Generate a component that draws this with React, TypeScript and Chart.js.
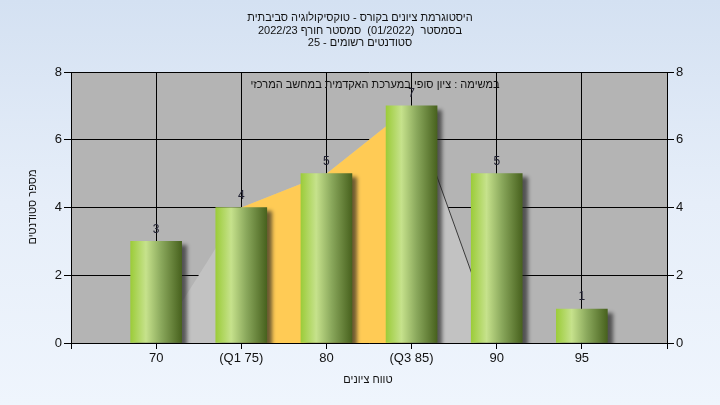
import React, { useEffect, useRef } from "react";
import { Chart, registerables } from "chart.js";

Chart.register(...registerables);

// ---- data ----
const categories = [70, 75, 80, 85, 90, 95];
const tickLabels = ["70", "(Q1 75)", "80", "(Q3 85)", "90", "95"];
const counts = [3, 4, 5, 7, 5, 1];
const curveX = [70, 75, 80, 85, 90, 95];
const curveY = [0, 4, 5, 7, 0, 0];
const iqrX = [75, 80, 85];
const iqrY = [4, 5, 7];
const xMin = 65;
const xMax = 100;
const yMax = 8;
const yStep = 2;

const titleLines = [
  "היסטוגרמת ציונים בקורס - טוקסיקולוגיה סביבתית",
  "בסמסטר  (01/2022)  סמסטר חורף 2022/23",
  "סטודנטים רשומים - 25",
];
const subtitle = "במשימה : ציון סופי במערכת האקדמית במחשב המרכזי";
const xTitle = "טווח ציונים";
const yTitle = "מספר סטודנטים";

const FONT = '"Liberation Sans", Arial, sans-serif';

const decor = {
  id: "decor",
  beforeDraw(chart: any) {
    const { ctx, chartArea: a } = chart;
    ctx.save();
    ctx.fillStyle = "#b4b4b4";
    ctx.fillRect(a.left, a.top, a.right - a.left, a.bottom - a.top);
    ctx.restore();
  },
  beforeDatasetDraw(chart: any, args: any) {
    if (args.index === 0) {
      const ctx = chart.ctx;
      ctx.save();
      ctx.shadowColor = "rgba(30,30,30,0.65)";
      ctx.shadowOffsetX = 5;
      ctx.shadowOffsetY = 4;
      ctx.shadowBlur = 4;
    }
  },
  afterDatasetDraw(chart: any, args: any) {
    if (args.index === 0) chart.ctx.restore();
  },
  afterDatasetsDraw(chart: any) {
    const { ctx, chartArea: a } = chart;
    const meta = chart.getDatasetMeta(0);
    ctx.save();
    ctx.font = `12px ${FONT}`;
    ctx.fillStyle = "#222233";
    ctx.textAlign = "center";
    ctx.textBaseline = "middle";
    meta.data.forEach((el: any, i: number) => {
      ctx.fillText(String(counts[i]), el.x, el.y - 12);
    });
    ctx.font = `11px ${FONT}`;
    ctx.fillStyle = "#111";
    ctx.fillText(subtitle, (a.left + a.right) / 2 + 6, 85);
    ctx.restore();
  },
  afterDraw(chart: any) {
    const { ctx } = chart;
    ctx.save();
    ctx.font = `11px ${FONT}`;
    ctx.fillStyle = "#111";
    ctx.textAlign = "center";
    ctx.textBaseline = "middle";
    titleLines.forEach((t, i) => ctx.fillText(t, 360, 18 + i * 12.5));
    ctx.fillText(xTitle, 368, 380);
    ctx.translate(33, 207);
    ctx.rotate(-Math.PI / 2);
    ctx.fillText(yTitle, 0, 0);
    ctx.restore();
  },
};

export default function App() {
  const ref = useRef<HTMLCanvasElement | null>(null);
  useEffect(() => {
    if (!ref.current) return;
    const chart = new Chart(ref.current, {
      data: {
        datasets: [
          {
            type: "bar",
            order: 0,
            data: categories.map((x, i) => ({ x, y: counts[i] })),
            barThickness: 51,
            borderWidth: 0,
            backgroundColor: (c: any) => {
              const chart = c.chart;
              const xs = chart.scales && chart.scales.x;
              if (!xs || !c.raw) return "#8fb548";
              const px = xs.getPixelForValue(c.raw.x);
              if (!isFinite(px)) return "#8fb548";
              const g = chart.ctx.createLinearGradient(px - 25.5, 0, px + 25.5, 0);
              g.addColorStop(0, "#9ccc3a");
              g.addColorStop(0.3, "#c6e28c");
              g.addColorStop(0.6, "#8aa85c");
              g.addColorStop(1, "#48621e");
              return g;
            },
          } as any,
          {
            type: "line",
            order: 2,
            data: curveX.map((x, i) => ({ x, y: curveY[i] })),
            fill: "origin",
            backgroundColor: "#c2c2c2",
            borderWidth: 1,
            borderColor: "rgba(0,0,0,0)",
            segment: {
              borderColor: (s: any) =>
                s.p0DataIndex === 3 ? "#3a3a3a" : "rgba(0,0,0,0)",
            },
            pointRadius: 0,
            tension: 0,
          } as any,
          {
            type: "line",
            order: 1,
            data: iqrX.map((x, i) => ({ x, y: iqrY[i] })),
            fill: "origin",
            backgroundColor: "#ffcb55",
            borderWidth: 0,
            borderColor: "rgba(0,0,0,0)",
            pointRadius: 0,
            tension: 0,
          } as any,
        ],
      },
      options: {
        animation: false,
        responsive: false,
        layout: { padding: { top: 72, left: 0, right: 0, bottom: 0 } },
        plugins: {
          legend: { display: false },
          title: { display: false },
          tooltip: { enabled: false },
        },
        scales: {
          x: {
            type: "linear",
            offset: false,
            min: xMin,
            max: xMax,
            afterFit: (s: any) => {
              s.height = 62;
            },
            afterBuildTicks: (s: any) => {
              s.ticks = [xMin, ...categories, xMax].map((v) => ({ value: v }));
            },
            ticks: {
              autoSkip: false,
              maxRotation: 0,
              padding: 2,
              color: "#111",
              font: { family: FONT, size: 13 },
              callback: (v: any) => {
                const i = categories.indexOf(Number(v));
                return i >= 0 ? tickLabels[i] : "";
              },
            },
            grid: { offset: false, color: "#000", lineWidth: 1, tickLength: 6 },
            border: { display: true, color: "#000", width: 1 },
          },
          y: {
            type: "linear",
            position: "left",
            min: 0,
            max: yMax,
            afterFit: (s: any) => {
              s.width = 71;
            },
            ticks: {
              stepSize: yStep,
              padding: 2,
              color: "#111",
              font: { family: FONT, size: 13 },
            },
            grid: { color: "#000", lineWidth: 1, tickLength: 7 },
            border: { display: true, color: "#000", width: 1 },
          },
          y2: {
            type: "linear",
            position: "right",
            min: 0,
            max: yMax,
            afterFit: (s: any) => {
              s.width = 53;
            },
            ticks: {
              stepSize: yStep,
              padding: 2,
              color: "#111",
              font: { family: FONT, size: 13 },
            },
            grid: { drawOnChartArea: false, color: "#000", lineWidth: 1, tickLength: 7 },
            border: { display: true, color: "#000", width: 1 },
          },
        },
      } as any,
      plugins: [decor],
    });
    return () => chart.destroy();
  }, []);

  return (
    <div
      style={{
        position: "fixed",
        left: 0,
        top: 0,
        width: 720,
        height: 405,
        background: "linear-gradient(to bottom, #d4e1f2 0%, #e6eef9 50%, #eff5fd 100%)",
      }}
    >
      <canvas ref={ref} width={720} height={405} style={{ display: "block" }} />
    </div>
  );
}
